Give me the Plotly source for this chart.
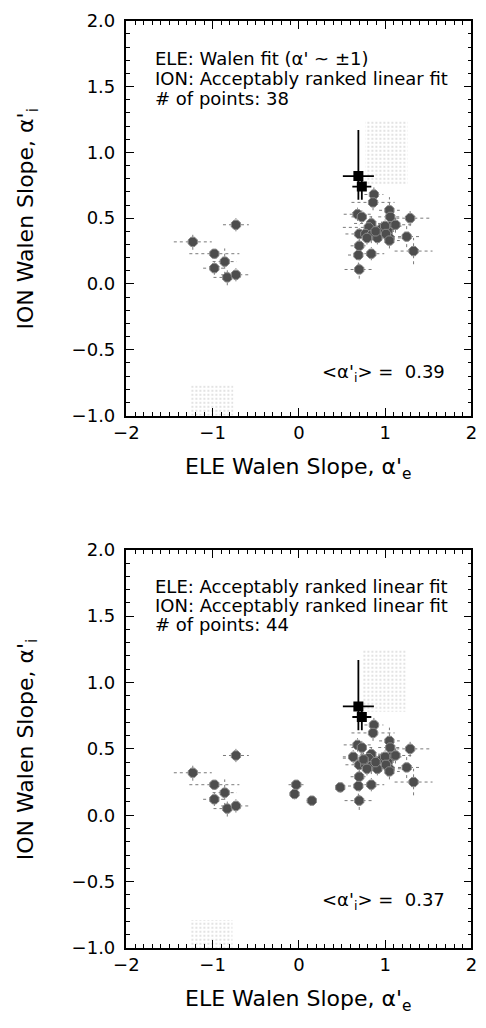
import plotly.graph_objects as go

# ---------------- data ----------------
# left cluster (alpha'_e ~ -1), shared by both panels
left_x = [-1.23, -0.73, -0.98, -0.86, -0.98, -0.83, -0.73]
left_y = [0.32, 0.45, 0.23, 0.17, 0.12, 0.05, 0.07]
left_xerr = [0.22, 0.15, 0.29, 0.14, 0.13, 0.16, 0.17]
left_yerr = [0.06, 0.05, 0.04, 0.10, 0.05, 0.06, 0.05]

# black highlighted events
blk_x = [0.69, 0.73]
blk_y = [0.82, 0.74]
blk_xerr = [0.18, 0.11]
blk_yerr_plus = [0.35, 0.10]
blk_yerr_minus = [0.18, 0.10]

# right cluster (alpha'_e ~ +1), shared by both panels
right_x = [0.87, 0.86, 0.68, 0.73, 1.05, 1.06, 1.29, 0.84, 0.81, 1.07, 0.96, 1.03, 0.70, 0.77, 0.84,
           0.91, 1.05, 1.12, 1.25, 0.70, 0.69, 0.84, 1.33, 0.70, 1.00, 1.01, 0.89, 1.05, 0.79]
right_y = [0.68, 0.62, 0.53, 0.51, 0.56, 0.51, 0.50, 0.46, 0.43, 0.44, 0.42, 0.40, 0.38, 0.38, 0.37,
           0.35, 0.35, 0.45, 0.36, 0.29, 0.22, 0.23, 0.25, 0.11, 0.44, 0.38, 0.40, 0.33, 0.35]
right_xerr = [0.11, 0.25, 0.16, 0.12, 0.12, 0.14, 0.23, 0.20, 0.30, 0.12, 0.15, 0.10, 0.16, 0.12, 0.20,
              0.15, 0.18, 0.20, 0.17, 0.10, 0.12, 0.15, 0.22, 0.17, 0.12, 0.10, 0.12, 0.12, 0.10]
right_yerr = [0.06, 0.06, 0.05, 0.05, 0.10, 0.08, 0.06, 0.06, 0.05, 0.05, 0.06, 0.05, 0.07, 0.05, 0.06,
              0.05, 0.05, 0.06, 0.08, 0.06, 0.08, 0.05, 0.10, 0.07, 0.05, 0.05, 0.05, 0.06, 0.05]

# extra events only in the lower panel (acceptably ranked electron fits)
extra_x = [-0.03, -0.05, 0.15, 0.48, 0.63, 0.75]
extra_y = [0.23, 0.16, 0.11, 0.21, 0.44, 0.42]
extra_xerr = [0.09, 0.06, 0.06, 0.06, 0.12, 0.10]
extra_yerr = [0.04, 0.04, 0.03, 0.04, 0.05, 0.05]

# stippled (faint) regions: [x0, x1, y0, y1]
stip_top = [[0.77, 1.26, 0.76, 1.24], [-1.25, -0.76, -1.17, -0.77]]
stip_bot = [[0.74, 1.24, 0.78, 1.25], [-1.25, -0.77, -1.32, -0.79]]

panels = [
    dict(lines=["ELE: Walen fit (α' ~ ±1)", "ION: Acceptably ranked linear fit", "# of points: 38"],
         mean="<α'<sub>i</sub>> =  0.39", extra=False, stip=stip_top,
         px=(10, 413), text_y=[48, 69, 89], mean_y=370),
    dict(lines=["ELE: Acceptably ranked linear fit", "ION: Acceptably ranked linear fit", "# of points: 44"],
         mean="<α'<sub>i</sub>> =  0.37", extra=True, stip=stip_bot,
         px=(550, 956.5), text_y=[587, 607, 626], mean_y=909),
]

x_dtick, x_minor = 1, 0.1
y_dtick, y_minor = 0.5, 0.1
x_range = [-2, 2]
y_range = [-1.0, 2.0]

# ---------------- figure ----------------
W, H = 486, 1028
XL, XR = 118, 477
FONT = "DejaVu Sans"


def py(p):
    return 1 - p / H


def err_segments(xs, ys, xe, ye_p, ye_m):
    hx, hy, vx, vy = [], [], [], []
    for x, y, a, bp, bm in zip(xs, ys, xe, ye_p, ye_m):
        hx += [x - a, x + a, None]
        hy += [y, y, None]
        vx += [x, x, None]
        vy += [y - bm, y + bp, None]
    return hx + vx, hy + vy


fig = go.Figure()
layout = dict(width=W, height=H, margin=dict(l=0, r=0, t=0, b=0),
              paper_bgcolor="white", plot_bgcolor="white", showlegend=False,
              font=dict(family=FONT, size=18, color="black"))
annotations = []

for i, p in enumerate(panels):
    n = "" if i == 0 else str(i + 1)
    xa, ya = "x" + n, "y" + n
    top, bot = p["px"]
    ydom = [py(bot), py(top)]

    for (x0, x1, y0, y1) in p["stip"]:
        fig.add_trace(go.Scatter(
            x=[x0, x1, x1, x0, x0], y=[y0, y0, y1, y1, y0], mode="lines",
            fill="toself", line=dict(width=0, color="rgba(0,0,0,0)"),
            fillcolor="rgba(0,0,0,0)",
            fillpattern=dict(shape=".", fgcolor="#b4b4b4", bgcolor="rgba(255,255,255,0)",
                             size=4, solidity=0.2),
            xaxis=xa, yaxis=ya, hoverinfo="skip"))

    gx = left_x + right_x + (extra_x if p["extra"] else [])
    gy = left_y + right_y + (extra_y if p["extra"] else [])
    gxe = left_xerr + right_xerr + (extra_xerr if p["extra"] else [])
    gye = left_yerr + right_yerr + (extra_yerr if p["extra"] else [])
    ex, ey = err_segments(gx, gy, gxe, gye, gye)
    fig.add_trace(go.Scatter(x=ex, y=ey, mode="lines", xaxis=xa, yaxis=ya,
                             line=dict(color="#7a7a7a", width=1, dash="dot"), hoverinfo="skip"))
    fig.add_trace(go.Scatter(x=gx, y=gy, mode="markers", xaxis=xa, yaxis=ya,
                             marker=dict(symbol="octagon", size=10, color="#4d4d4d",
                                         line=dict(color="#8a8a8a", width=1))))
    bx, by = err_segments(blk_x, blk_y, blk_xerr, blk_yerr_plus, blk_yerr_minus)
    fig.add_trace(go.Scatter(x=bx, y=by, mode="lines", xaxis=xa, yaxis=ya,
                             line=dict(color="black", width=1.8), hoverinfo="skip"))
    fig.add_trace(go.Scatter(x=blk_x, y=blk_y, mode="markers", xaxis=xa, yaxis=ya,
                             marker=dict(symbol="square", size=10, color="black")))

    common = dict(showline=True, linecolor="black", linewidth=1.5, mirror="ticks",
                  ticks="inside", ticklen=8, tickwidth=1.2, tickcolor="black",
                  showgrid=False, zeroline=False,
                  tickfont=dict(family=FONT, size=18, color="black"))
    layout["xaxis" + n] = dict(common, domain=[XL / W, XR / W], range=x_range, anchor=ya,
                               tickmode="linear", tick0=0, dtick=x_dtick, tickformat="d",
                               minor=dict(dtick=x_minor, ticks="inside", ticklen=4, tickcolor="black"))
    layout["yaxis" + n] = dict(common, domain=ydom, range=y_range, anchor=xa,
                               tickmode="linear", tick0=0, dtick=y_dtick, tickformat=".1f",
                               ticksuffix=" ",
                               minor=dict(dtick=y_minor, ticks="inside", ticklen=4, tickcolor="black"))

    for line, yy in zip(p["lines"], p["text_y"]):
        annotations.append(dict(text=line, x=146 / W, y=py(yy), xref="paper", yref="paper",
                                xanchor="left", yanchor="middle", showarrow=False,
                                font=dict(family=FONT, size=18, color="black")))
    annotations.append(dict(text=p["mean"], x=452 / W, y=py(p["mean_y"]), xref="paper", yref="paper",
                            xanchor="right", yanchor="middle", showarrow=False,
                            font=dict(family=FONT, size=18, color="black")))
    # axis titles
    annotations.append(dict(text="ELE Walen Slope, α'<sub>e</sub>", x=(XL + XR) / 2 / W, y=py(bot + 54),
                            xref="paper", yref="paper", xanchor="center", yanchor="middle",
                            showarrow=False, font=dict(family=FONT, size=22, color="black")))
    annotations.append(dict(text="ION Walen Slope, α'<sub>i</sub>", x=15 / W, y=py((top + bot) / 2),
                            xref="paper", yref="paper", xanchor="center", yanchor="middle",
                            textangle=-90, showarrow=False,
                            font=dict(family=FONT, size=22, color="black")))

layout["annotations"] = annotations
fig.update_layout(**layout)
fig.write_html("out.html")
